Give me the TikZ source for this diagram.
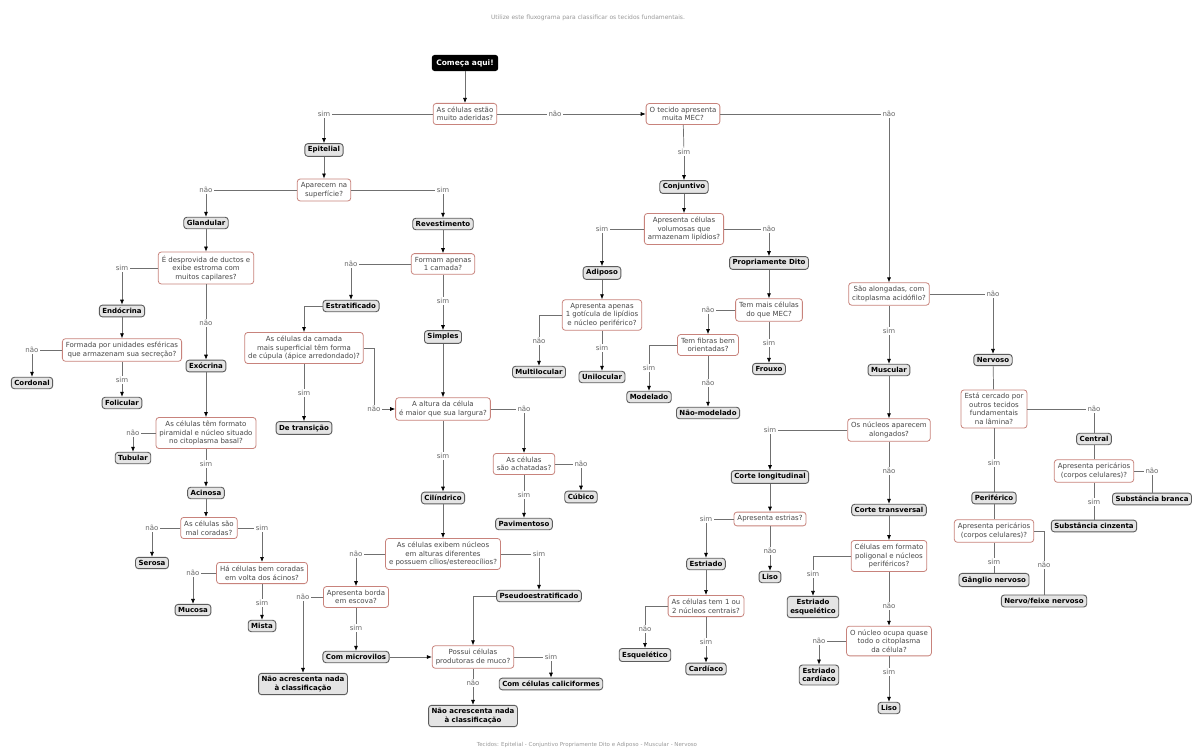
\documentclass[tikz,border=0pt]{standalone}
\usepackage{fontspec}
\setmainfont{DejaVu Sans}
\usetikzlibrary{arrows.meta}
\definecolor{qborder}{HTML}{C8837C}
\definecolor{rfill}{HTML}{E4E4E4}
\definecolor{rborder}{HTML}{5C5C5C}
\definecolor{wirec}{HTML}{707070}

\begin{document}
\begin{tikzpicture}[x=1pt,y=-1pt,
  font=\fontsize{7}{8.5}\selectfont,
  quest/.style={draw=qborder, fill=white, rounded corners=3pt, line width=0.8pt,
    align=center, inner sep=3.5pt, text=black!72},
  res/.style={draw=rborder, fill=rfill, rounded corners=3pt, line width=0.9pt,
    align=center, inner sep=3pt, font=\fontsize{7}{8.5}\selectfont\bfseries},
  start/.style={fill=black, text=white, rounded corners=3pt, inner sep=4.5pt,
    font=\fontsize{7.5}{9}\selectfont\bfseries},
  lab/.style={inner sep=1.5pt, text=black!60},
  wire/.style={draw=wirec, line width=0.7pt},
  arr/.style={wire, -{Latex[length=5pt,width=4pt,color=black]}}]
\useasboundingbox (0,0) rectangle (1195,751);
\fill[white] (0,0) rectangle (1195,751);
\clip (0,0) rectangle (1195,751);

\node[lab, text=black!40, font=\fontsize{6}{7}\selectfont] (Title) at (588,18) {Utilize este fluxograma para classificar os tecidos fundamentais.};
\node[lab, text=black!40, font=\fontsize{5.5}{7}\selectfont] (Foot) at (587,745) {Tecidos: Epitelial - Conjuntivo Propriamente Dito e Adiposo - Muscular - Nervoso};

\node[start] (Start) at (465,63) {Começa aqui!};
\node[quest] (Q1) at (465,114) {As células estão\\muito aderidas?};
\node[lab] (L1a) at (324,114) {sim};
\node[lab] (L1b) at (555,114) {não};
\node[res] (Epit) at (324,150) {Epitelial};
\node[quest] (Q2) at (324,190) {Aparecem na\\superfície?};
\node[lab] (L2a) at (206,190) {não};
\node[lab] (L2b) at (443,190) {sim};
\node[res] (Gland) at (206,223) {Glandular};
\node[res] (Revest) at (443,224) {Revestimento};

% glandular
\node[quest] (Q3) at (206,268) {É desprovida de ductos e\\exibe estroma com\\muitos capilares?};
\node[lab] (L3a) at (122,268) {sim};
\node[lab] (L3b) at (206,323) {não};
\node[res] (Endo) at (122,311) {Endócrina};
\node[res] (Exo) at (206,366) {Exócrina};
\node[quest] (Q4) at (122,350) {Formada por unidades esféricas\\que armazenam sua secreção?};
\node[lab] (L4a) at (32,350) {não};
\node[lab] (L4b) at (122,380) {sim};
\node[res] (Cord) at (32,383) {Cordonal};
\node[res] (Folic) at (122,403) {Folicular};
\node[quest] (Q5) at (206,433) {As células têm formato\\piramidal e núcleo situado\\no citoplasma basal?};
\node[lab] (L5a) at (133,433) {não};
\node[lab] (L5b) at (206,464) {sim};
\node[res] (Tubul) at (133,458) {Tubular};
\node[res] (Acin) at (206,493) {Acinosa};
\node[quest] (Q6) at (209,528) {As células são\\mal coradas?};
\node[lab] (L6a) at (152,528) {não};
\node[lab] (L6b) at (262,528) {sim};
\node[res] (Seros) at (152,563) {Serosa};
\node[quest] (Q7) at (262,573) {Há células bem coradas\\em volta dos ácinos?};
\node[lab] (L7a) at (193,573) {não};
\node[lab] (L7b) at (262,603) {sim};
\node[res] (Mucos) at (193,610) {Mucosa};
\node[res] (Mista) at (262,626) {Mista};

% revestimento
\node[quest] (Q8) at (443,264) {Formam apenas\\1 camada?};
\node[lab] (L8a) at (351,264) {não};
\node[lab] (L8b) at (443,301) {sim};
\node[res] (Estrat) at (351,306) {Estratificado};
\node[res] (Simpl) at (443,337) {Simples};
\node[quest] (Q9) at (304,348) {As células da camada\\mais superficial têm forma\\de cúpula (ápice arredondado)?};
\node[lab] (L9a) at (304,393) {sim};
\node[lab] (L9b) at (374,409) {não};
\node[res] (Trans) at (304,428) {De transição};
\node[quest] (Q10) at (443,409) {A altura da célula\\é maior que sua largura?};
\node[lab] (L10a) at (524,409) {não};
\node[lab] (L10b) at (443,456) {sim};
\node[quest] (Q11) at (524,464) {As células\\são achatadas?};
\node[lab] (L11a) at (581,464) {não};
\node[lab] (L11b) at (524,495) {sim};
\node[res] (Cubic) at (581,497) {Cúbico};
\node[res] (Pavim) at (524,524) {Pavimentoso};
\node[res] (Cilin) at (443,498) {Cilíndrico};
\node[quest] (Q12) at (443,554) {As células exibem núcleos\\em alturas diferentes\\e possuem cílios/estereocílios?};
\node[lab] (L12a) at (356,554) {não};
\node[lab] (L12b) at (539,554) {sim};
\node[quest] (Q13) at (356,597) {Apresenta borda\\em escova?};
\node[res] (Pseudo) at (539,596) {Pseudoestratificado};
\node[lab] (L13a) at (303,597) {não};
\node[lab] (L13b) at (356,628) {sim};
\node[res] (NaoA) at (303,684) {Não acrescenta nada\\à classificação};
\node[res] (Microv) at (356,657) {Com microvilos};
\node[quest] (Q14) at (473,657) {Possui células\\produtoras de muco?};
\node[lab] (L14a) at (551,657) {sim};
\node[lab] (L14b) at (473,683) {não};
\node[res] (Calic) at (551,684) {Com células caliciformes};
\node[res] (NaoB) at (473,716) {Não acrescenta nada\\à classificação};

% conjuntivo
\node[quest] (Q15) at (683,114) {O tecido apresenta\\muita MEC?};
\node[lab] (L15a) at (684,152) {sim};
\node[lab] (L15b) at (889,114) {não};
\node[res] (Conj) at (684,187) {Conjuntivo};
\node[quest] (Q16) at (684,229) {Apresenta células\\volumosas que\\armazenam lipídios?};
\node[lab] (L16a) at (602,229) {sim};
\node[lab] (L16b) at (769,229) {não};
\node[res] (Adip) at (602,273) {Adiposo};
\node[res] (Propr) at (769,263) {Propriamente Dito};
\node[quest] (Q17) at (602,315) {Apresenta apenas\\1 gotícula de lipídios\\e núcleo periférico?};
\node[lab] (L17a) at (539,341) {não};
\node[lab] (L17b) at (602,348) {sim};
\node[res] (Multi) at (539,372) {Multilocular};
\node[res] (Unilo) at (602,377) {Unilocular};
\node[quest] (Q18) at (769,310) {Tem mais células\\do que MEC?};
\node[lab] (L18a) at (708,310) {não};
\node[lab] (L18b) at (769,343) {sim};
\node[res] (Froux) at (769,369) {Frouxo};
\node[quest] (Q19) at (708,345) {Tem fibras bem\\orientadas?};
\node[lab] (L19a) at (649,368) {sim};
\node[lab] (L19b) at (708,383) {não};
\node[res] (Model) at (649,397) {Modelado};
\node[res] (NMod) at (708,413) {Não-modelado};

% muscular
\node[quest] (Q20) at (889,294) {São alongadas, com\\citoplasma acidófilo?};
\node[lab] (L20a) at (889,331) {sim};
\node[lab] (L20b) at (993,294) {não};
\node[res] (Musc) at (889,370) {Muscular};
\node[res] (Nerv) at (993,360) {Nervoso};
\node[quest] (Q21) at (889,430) {Os núcleos aparecem\\alongados?};
\node[lab] (L21a) at (770,430) {sim};
\node[lab] (L21b) at (889,471) {não};
\node[res] (CLong) at (770,477) {Corte longitudinal};
\node[res] (CTrans) at (889,510) {Corte transversal};
\node[quest] (Q22) at (770,519) {Apresenta estrias?};
\node[lab] (L22a) at (706,519) {sim};
\node[lab] (L22b) at (770,551) {não};
\node[res] (Estri) at (706,564) {Estriado};
\node[res] (LisoA) at (770,577) {Liso};
\node[quest] (Q23) at (706,606) {As células tem 1 ou\\2 núcleos centrais?};
\node[lab] (L23a) at (645,629) {não};
\node[lab] (L23b) at (706,642) {sim};
\node[res] (Esque) at (645,655) {Esquelético};
\node[res] (Card) at (706,669) {Cardíaco};
\node[quest] (Q24) at (889,556) {Células em formato\\poligonal e núcleos\\periféricos?};
\node[lab] (L24a) at (813,574) {sim};
\node[lab] (L24b) at (889,606) {não};
\node[res] (EEsq) at (813,607) {Estriado\\esquelético};
\node[quest] (Q25) at (889,641) {O núcleo ocupa quase\\todo o citoplasma\\da célula?};
\node[lab] (L25a) at (819,641) {não};
\node[lab] (L25b) at (889,672) {sim};
\node[res] (ECard) at (819,675) {Estriado\\cardíaco};
\node[res] (LisoB) at (889,708) {Liso};

% nervoso
\node[quest] (Q26) at (994,409) {Está cercado por\\outros tecidos\\fundamentais\\na lâmina?};
\node[lab] (L26a) at (994,463) {sim};
\node[lab] (L26b) at (1094,409) {não};
\node[res] (Perif) at (994,498) {Periférico};
\node[res] (Centr) at (1094,439) {Central};
\node[quest] (Q27) at (994,531) {Apresenta pericários\\(corpos celulares)?};
\node[lab] (L27a) at (994,562) {sim};
\node[lab] (L27b) at (1044,565) {não};
\node[res] (Gangl) at (994,580) {Gânglio nervoso};
\node[res] (Feixe) at (1044,601) {Nervo/feixe nervoso};
\node[quest] (Q28) at (1094,471) {Apresenta pericários\\(corpos celulares)?};
\node[lab] (L28a) at (1094,502) {sim};
\node[lab] (L28b) at (1152,471) {não};
\node[res] (Cinz) at (1094,526) {Substância cinzenta};
\node[res] (Branc) at (1152,499) {Substância branca};

\draw[arr] (Start) -- (Q1);
\draw[wire] (Q1) -- (L1a);
\draw[arr] (L1a) -- (Epit);
\draw[wire] (Q1) -- (L1b);
\draw[arr] (L1b) -- (Q15);
\draw[arr] (Epit) -- (Q2);
\draw[wire] (Q2) -- (L2a);
\draw[arr] (L2a) -- (Gland);
\draw[wire] (Q2) -- (L2b);
\draw[arr] (L2b) -- (Revest);

\draw[arr] (Gland) -- (Q3);
\draw[wire] (Q3) -- (L3a);
\draw[arr] (L3a) -- (Endo);
\draw[wire] (Q3) -- (L3b);
\draw[arr] (L3b) -- (Exo);
\draw[arr] (Endo) -- (Q4);
\draw[wire] (Q4) -- (L4a);
\draw[arr] (L4a) -- (Cord);
\draw[wire] (Q4) -- (L4b);
\draw[arr] (L4b) -- (Folic);
\draw[arr] (Exo) -- (Q5);
\draw[wire] (Q5) -- (L5a);
\draw[arr] (L5a) -- (Tubul);
\draw[wire] (Q5) -- (L5b);
\draw[arr] (L5b) -- (Acin);
\draw[arr] (Acin) -- (Acin|-Q6.north);
\draw[wire] (Q6) -- (L6a);
\draw[arr] (L6a) -- (Seros);
\draw[wire] (Q6) -- (L6b);
\draw[arr] (L6b) -- (Q7);
\draw[wire] (Q7) -- (L7a);
\draw[arr] (L7a) -- (Mucos);
\draw[wire] (Q7) -- (L7b);
\draw[arr] (L7b) -- (Mista);

\draw[arr] (Revest) -- (Q8);
\draw[wire] (Q8) -- (L8a);
\draw[arr] (L8a) -- (Estrat);
\draw[wire] (Q8) -- (L8b);
\draw[arr] (L8b) -- (Simpl);
\draw[arr] (Estrat.west) -| (Q9.north);
\draw[wire] (Q9) -- (L9a);
\draw[arr] (L9a) -- (Trans);
\draw[wire] (Q9.east) -| (L9b.north);
\draw[arr] (L9b) -- (Q10);
\draw[arr] (Simpl) -- (Q10);
\draw[wire] (Q10) -- (L10a);
\draw[arr] (L10a) -- (Q11);
\draw[wire] (Q11) -- (L11a);
\draw[arr] (L11a) -- (Cubic);
\draw[wire] (Q11) -- (L11b);
\draw[arr] (L11b) -- (Pavim);
\draw[wire] (Q10) -- (L10b);
\draw[arr] (L10b) -- (Cilin);
\draw[arr] (Cilin) -- (Q12);
\draw[wire] (Q12) -- (L12a);
\draw[arr] (L12a) -- (Q13);
\draw[wire] (Q12) -- (L12b);
\draw[arr] (L12b) -- (Pseudo);
\draw[wire] (Q13) -- (L13a);
\draw[arr] (L13a) -- (NaoA);
\draw[wire] (Q13) -- (L13b);
\draw[arr] (L13b) -- (Microv);
\draw[arr] (Microv) -- (Q14);
\draw[arr] (Pseudo.west) -| (Q14.north);
\draw[wire] (Q14) -- (L14a);
\draw[arr] (L14a) -- (Calic);
\draw[wire] (Q14) -- (L14b);
\draw[arr] (L14b) -- (NaoB);

\draw[wire] (Q15) -- (L15a);
\draw[arr] (L15a) -- (Conj);
\draw[wire] (Q15) -- (L15b);
\draw[arr] (L15b) -- (Q20);
\draw[arr] (Conj) -- (Q16);
\draw[wire] (Q16) -- (L16a);
\draw[arr] (L16a) -- (Adip);
\draw[wire] (Q16) -- (L16b);
\draw[arr] (L16b) -- (Propr);
\draw[arr] (Adip) -- (Q17);
\draw[wire] (Q17.west) -| (L17a.north);
\draw[arr] (L17a) -- (Multi);
\draw[wire] (Q17) -- (L17b);
\draw[arr] (L17b) -- (Unilo);
\draw[arr] (Propr) -- (Q18);
\draw[wire] (Q18) -- (L18a);
\draw[arr] (L18a) -- (Q19);
\draw[wire] (Q18) -- (L18b);
\draw[arr] (L18b) -- (Froux);
\draw[wire] (Q19.west) -| (L19a.north);
\draw[arr] (L19a) -- (Model);
\draw[wire] (Q19) -- (L19b);
\draw[arr] (L19b) -- (NMod);

\draw[wire] (Q20) -- (L20a);
\draw[arr] (L20a) -- (Musc);
\draw[wire] (Q20) -- (L20b);
\draw[arr] (L20b) -- (Nerv);
\draw[arr] (Musc) -- (Q21);
\draw[wire] (Q21) -- (L21a);
\draw[arr] (L21a) -- (CLong);
\draw[wire] (Q21) -- (L21b);
\draw[arr] (L21b) -- (CTrans);
\draw[arr] (CLong) -- (Q22);
\draw[wire] (Q22) -- (L22a);
\draw[arr] (L22a) -- (Estri);
\draw[wire] (Q22) -- (L22b);
\draw[arr] (L22b) -- (LisoA);
\draw[arr] (Estri) -- (Q23);
\draw[wire] (Q23.west) -| (L23a.north);
\draw[arr] (L23a) -- (Esque);
\draw[wire] (Q23) -- (L23b);
\draw[arr] (L23b) -- (Card);
\draw[arr] (CTrans) -- (Q24);
\draw[wire] (Q24.west) -| (L24a.north);
\draw[arr] (L24a) -- (EEsq);
\draw[wire] (Q24) -- (L24b);
\draw[arr] (L24b) -- (Q25);
\draw[wire] (Q25) -- (L25a);
\draw[arr] (L25a) -- (ECard);
\draw[wire] (Q25) -- (L25b);
\draw[arr] (L25b) -- (LisoB);

\draw[wire] (Nerv) -- (Q26);
\draw[wire] (Q26) -- (L26a) (L26a) -- (Perif);
\draw[wire] (Q26) -- (L26b) (L26b) -- (Centr);
\draw[wire] (Perif) -- (Q27);
\draw[wire] (Q27) -- (L27a) (L27a) -- (Gangl);
\draw[wire] (Q27.east) -| (L27b.north) (L27b) -- (Feixe);
\draw[wire] (Centr) -- (Q28);
\draw[wire] (Q28) -- (L28a) (L28a) -- (Cinz);
\draw[wire] (Q28) -- (L28b) (L28b) -- (Branc);
\end{tikzpicture}
\end{document}
